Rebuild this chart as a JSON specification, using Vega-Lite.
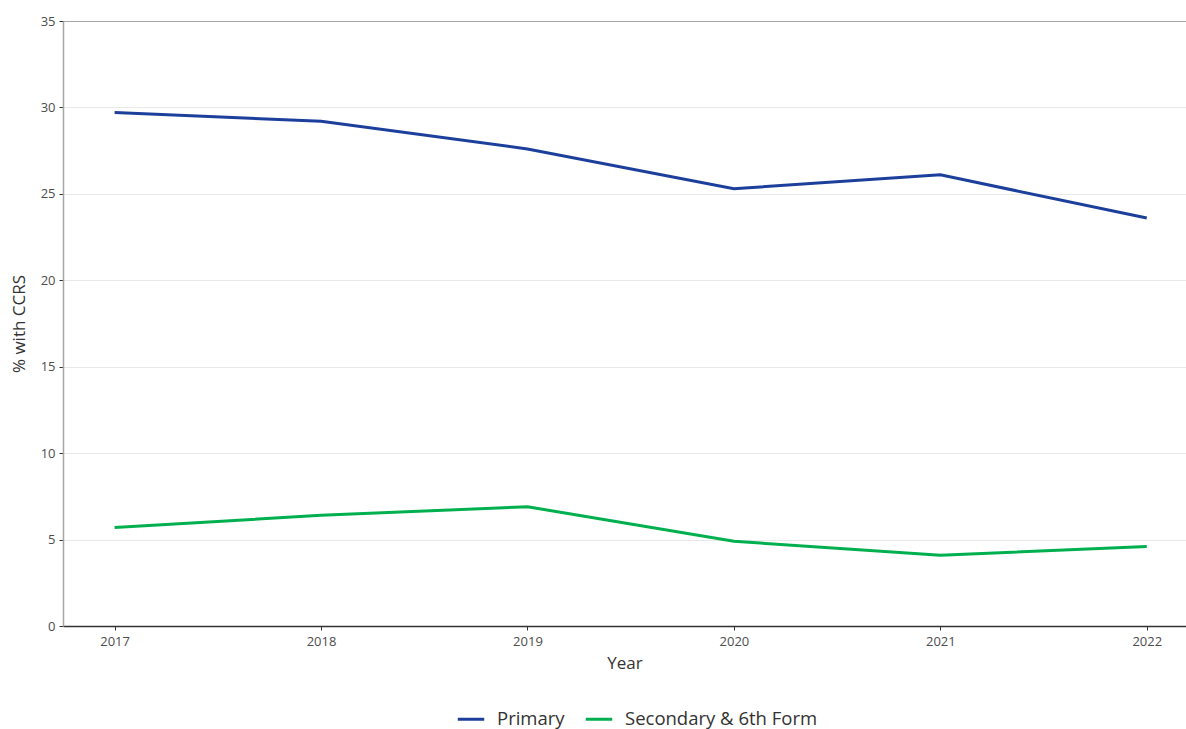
{
  "$schema": "https://vega.github.io/schema/vega-lite/v6.json",
  "autosize": "none",
  "width": 1123,
  "height": 605,
  "padding": {"left": 63, "top": 21, "right": 0, "bottom": 103},
  "background": "white",
  "config": {
    "font": "Open Sans",
    "view": {"stroke": null}
  },
  "data": {
    "values": [
      {"Year": 2017, "Phase": "Primary", "Value": 29.7},
      {"Year": 2018, "Phase": "Primary", "Value": 29.2},
      {"Year": 2019, "Phase": "Primary", "Value": 27.6},
      {"Year": 2020, "Phase": "Primary", "Value": 25.3},
      {"Year": 2021, "Phase": "Primary", "Value": 26.1},
      {"Year": 2022, "Phase": "Primary", "Value": 23.6},
      {"Year": 2017, "Phase": "Secondary & 6th Form", "Value": 5.7},
      {"Year": 2018, "Phase": "Secondary & 6th Form", "Value": 6.4},
      {"Year": 2019, "Phase": "Secondary & 6th Form", "Value": 6.9},
      {"Year": 2020, "Phase": "Secondary & 6th Form", "Value": 4.9},
      {"Year": 2021, "Phase": "Secondary & 6th Form", "Value": 4.1},
      {"Year": 2022, "Phase": "Secondary & 6th Form", "Value": 4.6}
    ]
  },
  "mark": {"type": "line", "strokeWidth": 3},
  "encoding": {
    "x": {
      "field": "Year",
      "type": "quantitative",
      "scale": {"domain": [2016.75, 2022.19], "nice": false, "zero": false},
      "axis": {
        "values": [2017, 2018, 2019, 2020, 2021, 2022],
        "format": "d",
        "grid": false,
        "domainColor": "#333333",
        "domainWidth": 1.5,
        "tickColor": "#333333",
        "tickSize": 4,
        "labelColor": "#4d4d4d",
        "labelFontSize": 13,
        "labelPadding": 5,
        "title": "Year",
        "titleFontSize": 17,
        "titleFontWeight": "normal",
        "titleColor": "#333333",
        "titlePadding": 7
      }
    },
    "y": {
      "field": "Value",
      "type": "quantitative",
      "scale": {"domain": [0, 35], "nice": false},
      "axis": {
        "values": [0, 5, 10, 15, 20, 25, 30, 35],
        "grid": true,
        "gridColor": {"condition": {"test": "datum.value == 35", "value": "#a6a6a6"}, "value": "#e8e8e8"},
        "gridWidth": 1.2,
        "domainColor": "#a6a6a6",
        "domainWidth": 1.5,
        "tickColor": "#333333",
        "tickSize": 4,
        "labelColor": "#4d4d4d",
        "labelFontSize": 13,
        "labelPadding": 4,
        "title": "% with CCRS",
        "titleFontSize": 17,
        "titleFontWeight": "normal",
        "titleColor": "#333333",
        "titlePadding": 12
      }
    },
    "color": {
      "field": "Phase",
      "type": "nominal",
      "scale": {"domain": ["Primary", "Secondary & 6th Form"], "range": ["#1c3f9c", "#00b04f"]},
      "legend": {
        "title": null,
        "orient": "none",
        "legendX": 393,
        "legendY": 683,
        "direction": "horizontal",
        "symbolType": "stroke",
        "symbolStrokeWidth": 3,
        "symbolSize": 700,
        "labelFontSize": 18.5,
        "labelLimit": 0,
        "labelOffset": 11,
        "labelColor": "#333333",
        "columnPadding": 14
      }
    }
  }
}
